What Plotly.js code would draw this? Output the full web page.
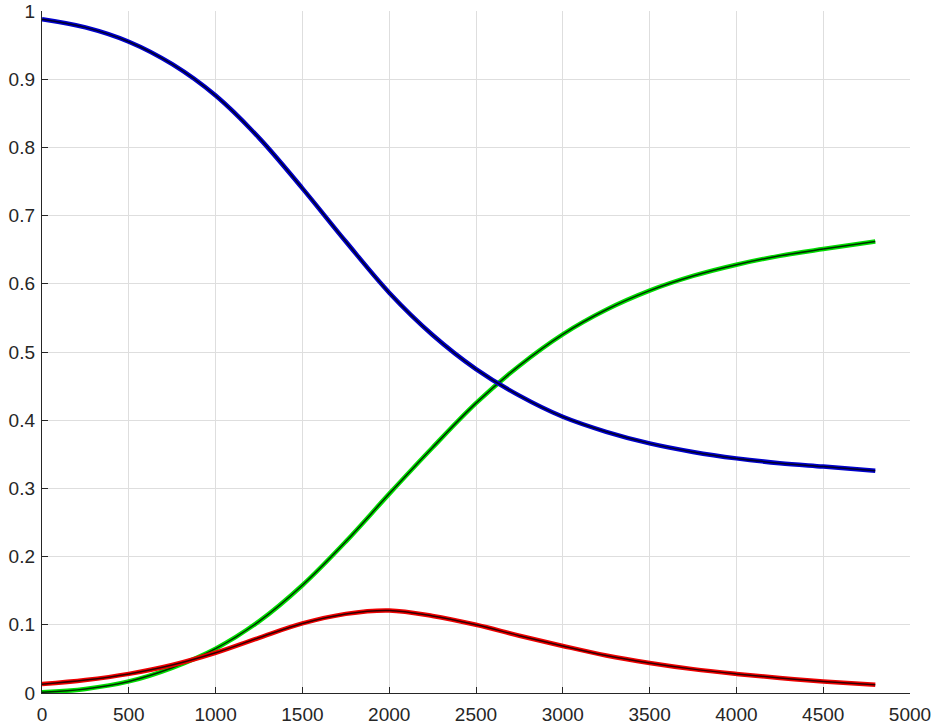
<!DOCTYPE html>
<html><head><meta charset="utf-8">
<script src="https://cdn.plot.ly/plotly-3.0.1.min.js"></script>
<style>html,body{margin:0;padding:0;background:#fff}#chart{width:936px;height:728px}</style>
</head><body><div id="chart"></div>
<script>
const t = [0,250,500,750,1000,1250,1500,1750,2000,2250,2500,2750,3000,3250,3500,3750,4000,4250,4500,4800];
const susceptible = [0.988,0.976,0.955,0.922,0.876,0.814,0.740,0.662,0.587,0.525,0.475,0.436,0.405,0.383,0.366,0.3535,0.344,0.337,0.332,0.326];
const infected = [0.013,0.019,0.028,0.041,0.059,0.081,0.102,0.116,0.121,0.113,0.1,0.084,0.069,0.055,0.044,0.035,0.028,0.022,0.017,0.012];
const recovered = [0.001,0.006,0.017,0.037,0.065,0.105,0.158,0.222,0.292,0.36,0.425,0.48,0.526,0.562,0.59,0.6115,0.628,0.641,0.651,0.662];
const xTicks = [0,500,1000,1500,2000,2500,3000,3500,4000,4500,5000];
const yTicks = [0,0.1,0.2,0.3,0.4,0.5,0.6,0.7,0.8,0.9,1];

function pair(y, color){
  return [
    {x:t, y:y, mode:'lines', line:{color:color, width:4.5, shape:'spline'}, hoverinfo:'skip'},
    {x:t, y:y, mode:'lines', line:{color:'rgba(0,0,0,0.8)', width:1.5, shape:'spline'}, hoverinfo:'skip'}
  ];
}
const data = [].concat(pair(recovered,'#00dd00'), pair(infected,'#ee0000'), pair(susceptible,'#0000cc'));

const axisCommon = {
  showline:true, linecolor:'#262626', linewidth:1.2, mirror:false,
  ticks:'inside', ticklen:6, tickcolor:'#262626', tickwidth:1,
  showgrid:true, gridcolor:'#dedede', gridwidth:1, zeroline:false,
  ticklabeloverflow:'allow',
  tickfont:{family:'Liberation Sans, Arial, sans-serif', size:19, color:'#262626'}
};
const layout = {
  width:936, height:728,
  margin:{l:42, r:26, t:11, b:35},
  paper_bgcolor:'#fff', plot_bgcolor:'#fff',
  showlegend:false,
  xaxis:Object.assign({}, axisCommon, {range:[0,5000.01], tickvals:xTicks, ticktext:xTicks.map(String), ticklabelstandoff:4}),
  yaxis:Object.assign({}, axisCommon, {range:[0,1.00001], tickvals:yTicks, ticktext:yTicks.map(String), ticklabelstandoff:2})
};
Plotly.newPlot('chart', data, layout, {displayModeBar:false, staticPlot:true});
</script></body></html>
